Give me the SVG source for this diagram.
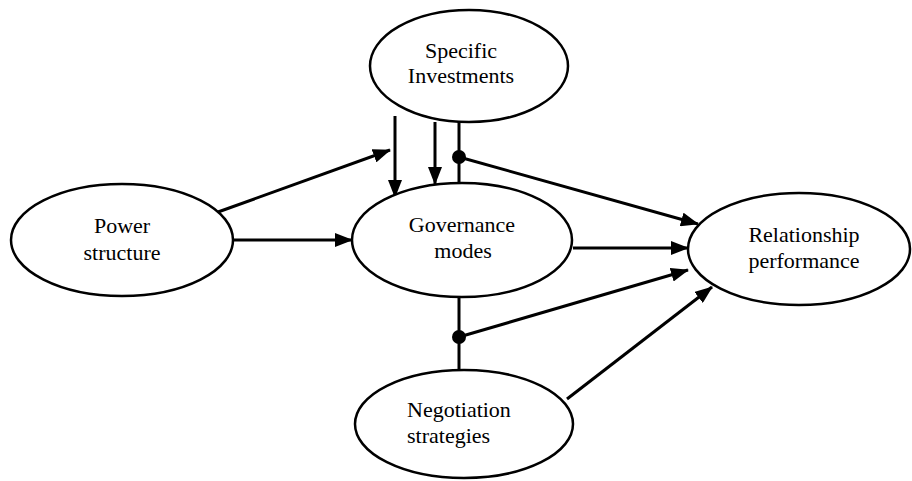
<svg xmlns="http://www.w3.org/2000/svg" width="912" height="481" viewBox="0 0 912 481">
  <style>
    .node ellipse { fill: #fff; stroke: #000; stroke-width: 2.5; }
    .node text { font-family: "Liberation Serif", "Times New Roman", serif; font-size: 22px; fill: #000; }
    .mid { text-anchor: middle; }
    .edge { stroke: #000; stroke-width: 3; fill: none; }
    .arrow { marker-end: url(#head); }
  </style>
  <defs>
    <marker id="head" viewBox="0 0 18 14" refX="17" refY="7" markerWidth="18" markerHeight="14" markerUnits="userSpaceOnUse" orient="auto">
      <path d="M0,0 L18,7 L0,14 Z" fill="#000"/>
    </marker>
  </defs>

  <g id="connectors">
    <!-- Power structure -> Specific Investments -->
    <line class="edge arrow" x1="218" y1="212" x2="390" y2="150"/>
    <!-- Power structure -> Governance modes -->
    <line class="edge arrow" x1="233" y1="240" x2="352" y2="240"/>
    <!-- Specific Investments -> Governance modes -->
    <line class="edge arrow" x1="395" y1="116" x2="395" y2="197"/>
    <line class="edge arrow" x1="435" y1="122" x2="435" y2="184"/>
    <!-- moderation link from Specific Investments -->
    <line class="edge" x1="459" y1="122" x2="459" y2="184"/>
    <circle cx="459" cy="157" r="7" fill="#000"/>
    <line class="edge arrow" x1="459" y1="157" x2="698" y2="224"/>
    <!-- Governance modes -> Relationship performance -->
    <line class="edge arrow" x1="573" y1="248" x2="688" y2="248"/>
    <!-- moderation link from Negotiation strategies -->
    <line class="edge" x1="459" y1="298" x2="459" y2="370"/>
    <circle cx="459" cy="337" r="7" fill="#000"/>
    <line class="edge arrow" x1="459" y1="337" x2="688" y2="270"/>
    <!-- Negotiation strategies -> Relationship performance -->
    <line class="edge arrow" x1="567" y1="399" x2="712" y2="287"/>
  </g>

  <g id="specific-investments" class="node">
    <ellipse cx="469" cy="66" rx="99" ry="56"/>
    <text class="mid" x="461" y="58">Specific</text>
    <text class="mid" x="461" y="83">Investments</text>
  </g>

  <g id="power-structure" class="node">
    <ellipse cx="122" cy="240" rx="111" ry="56"/>
    <text class="mid" x="122" y="233">Power</text>
    <text class="mid" x="122" y="260">structure</text>
  </g>

  <g id="governance-modes" class="node">
    <ellipse cx="462" cy="240" rx="110" ry="57"/>
    <text class="mid" x="462" y="232">Governance</text>
    <text class="mid" x="463" y="258">modes</text>
  </g>

  <g id="relationship-performance" class="node">
    <ellipse cx="799" cy="249" rx="111" ry="56"/>
    <text class="mid" x="804" y="242">Relationship</text>
    <text class="mid" x="804" y="268">performance</text>
  </g>

  <g id="negotiation-strategies" class="node">
    <ellipse cx="464" cy="424" rx="109" ry="54"/>
    <text x="407" y="417">Negotiation</text>
    <text x="407" y="443">strategies</text>
  </g>
</svg>
